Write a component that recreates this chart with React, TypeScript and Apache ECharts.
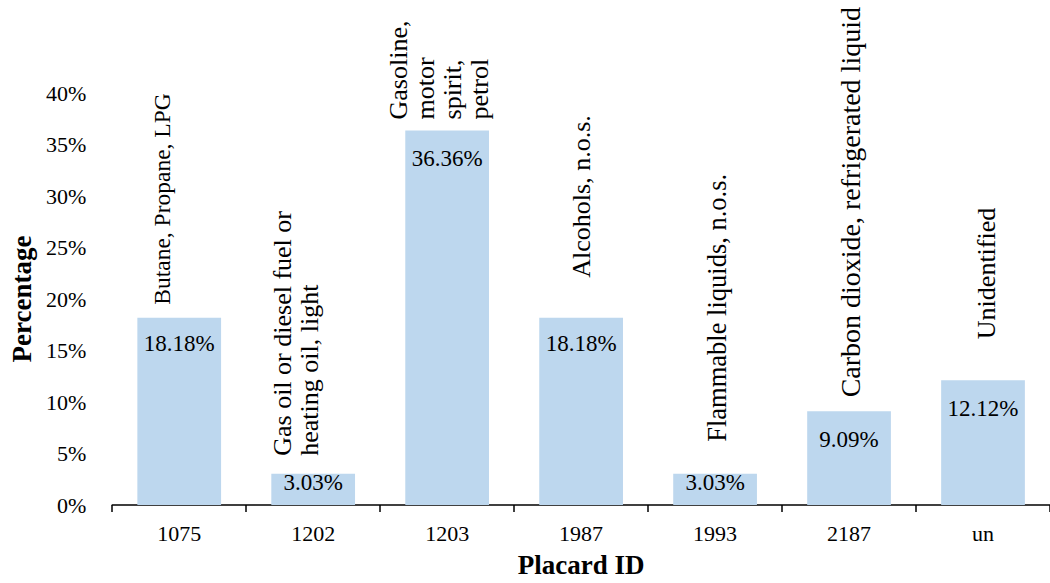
import React, { useEffect, useRef } from "react";
import * as echarts from "echarts";

const placardIds = ["1075", "1202", "1203", "1987", "1993", "2187", "un"];
const percentages = [18.18, 3.03, 36.36, 18.18, 3.03, 9.09, 12.12];
const substanceNames = [
  "Butane, Propane, LPG",
  "Gas oil or diesel fuel or\nheating oil, light",
  "Gasoline,\nmotor\nspirit,\npetrol",
  "Alcohols, n.o.s.",
  "Flammable liquids, n.o.s.",
  "Carbon dioxide, refrigerated liquid",
  "Unidentified",
];
const nameGaps = [13, 18, 11, 40, 32, 14, 41];
const nameShifts = [-17, -17, -8, 0, 2, 1, 3];
const nameFontSizes = [23.5, 26, 26, 26, 26.5, 28, 26];
const valueLabelGaps = [14, -3, 17, 14, -3, 17, 17];
const yTicks = [0, 5, 10, 15, 20, 25, 30, 35, 40];

const FONT = "'Liberation Serif', 'Times New Roman', serif";
const FS = 22;

export default function App() {
  const ref = useRef<HTMLDivElement>(null);
  useEffect(() => {
    if (!ref.current) return;
    const chart = echarts.init(ref.current, undefined, { renderer: "svg" });
    chart.setOption({
      animation: false,
      backgroundColor: "#ffffff",
      textStyle: { fontFamily: FONT, color: "#000" },
      grid: { left: 106, right: -8, top: 93, bottom: 76, containLabel: false },
      xAxis: {
        type: "category",
        data: placardIds,
        name: "Placard ID",
        nameLocation: "middle",
        nameGap: 46,
        nameTextStyle: { fontFamily: FONT, fontSize: 27, fontWeight: "bold", color: "#000" },
        axisLine: { show: true, lineStyle: { color: "#000", width: 1.5 } },
        axisTick: { show: true, alignWithLabel: false, length: 7, lineStyle: { color: "#000", width: 1.5 } },
        axisLabel: { fontFamily: FONT, fontSize: FS, color: "#000", margin: 17 },
      },
      yAxis: {
        type: "value",
        min: yTicks[0],
        max: yTicks[yTicks.length - 1],
        interval: 5,
        name: "Percentage",
        nameLocation: "middle",
        nameRotate: 90,
        nameGap: 64,
        nameTextStyle: { fontFamily: FONT, fontSize: 27, fontWeight: "bold", color: "#000" },
        axisLine: { show: false },
        axisTick: { show: false },
        splitLine: { show: false },
        axisLabel: { fontFamily: FONT, fontSize: FS, color: "#000", margin: 26, formatter: (v: number) => `${v}%` },
      },
      series: [
        {
          type: "bar",
          data: percentages.map((v, i) => ({
            value: v,
            label: { distance: valueLabelGaps[i] },
          })),
          barWidth: "62.5%",
          itemStyle: { color: "#BDD7EE" },
          label: {
            show: true,
            position: "insideTop",
            fontFamily: FONT,
            fontSize: 23,
            color: "#000",
            formatter: (p: any) => `${p.value.toFixed(2)}%`,
          },
        },
        {
          type: "bar",
          barGap: "-100%",
          barWidth: "62.5%",
          silent: true,
          itemStyle: { color: "rgba(0,0,0,0)" },
          data: percentages.map((v, i) => ({
            value: v,
            label: {
              distance: nameGaps[i],
              offset: [0, nameShifts[i]],
              fontSize: nameFontSizes[i],
            },
          })),
          label: {
            show: true,
            position: "top",
            rotate: 90,
            align: "left",
            verticalAlign: "middle",
            fontFamily: FONT,
            fontSize: 26,
            lineHeight: 27,
            color: "#000",
            formatter: (p: any) => substanceNames[p.dataIndex],
          },
        },
      ],
    });
    return () => chart.dispose();
  }, []);
  return (
    <div
      ref={ref}
      style={{ position: "fixed", left: 0, top: 0, width: 1050, height: 583, background: "#fff" }}
    />
  );
}
